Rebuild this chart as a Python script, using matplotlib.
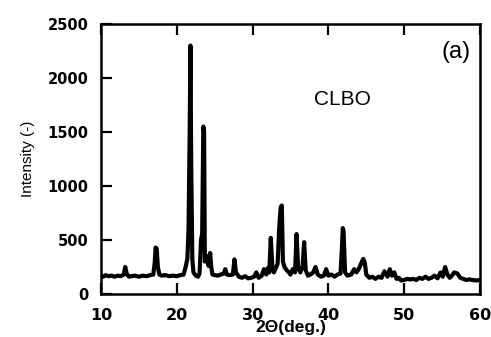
import matplotlib
matplotlib.use("Agg")
import matplotlib.pyplot as plt

# XRD pattern of CLBO powder
two_theta = [10.0, 10.3, 10.6, 11.0, 11.4, 11.8, 12.2, 12.6, 13.0, 13.2,
             13.4, 13.7, 14.0, 14.5, 15.0, 15.5, 16.0, 16.5, 16.9, 17.1,
             17.2, 17.35, 17.5, 17.7, 18.0, 18.5, 19.0, 19.5, 20.0, 20.5,
             20.9, 21.2, 21.4, 21.55, 21.7, 21.8, 21.9, 22.05, 22.2, 22.5,
             22.8, 23.0, 23.2, 23.35, 23.5, 23.6, 23.7, 23.85, 24.0, 24.2,
             24.4, 24.55, 24.7, 25.0, 25.4, 25.8, 26.2, 26.4, 26.6, 27.0,
             27.4, 27.6, 27.8, 28.2, 28.6, 29.0, 29.4, 29.8, 30.2, 30.5,
             30.8, 31.2, 31.5, 31.8, 32.0, 32.2, 32.4, 32.6, 32.8, 33.0,
             33.3, 33.5, 33.7, 33.85, 34.0, 34.2, 34.5, 34.8, 35.0, 35.3,
             35.6, 35.8, 36.0, 36.3, 36.6, 36.8, 37.0, 37.3, 37.6, 38.0,
             38.3, 38.6, 39.0, 39.4, 39.7, 40.0, 40.4, 40.8, 41.2, 41.6,
             41.8, 41.9, 42.0, 42.2, 42.5, 43.0, 43.4, 43.7, 44.0, 44.3,
             44.6, 44.8, 45.0, 45.4, 45.8, 46.2, 46.6, 47.0, 47.4, 47.8,
             48.1, 48.4, 48.7, 49.0, 49.3, 49.6, 50.0, 50.4, 50.8, 51.2,
             51.6, 52.0, 52.4, 52.8, 53.2, 53.6, 54.0, 54.4, 54.8, 55.1,
             55.4, 55.7, 56.0, 56.3, 56.6, 57.0, 57.4, 57.8, 58.2, 58.6,
             59.0, 59.5, 60.0]
intensity = [170, 160, 175, 165, 170, 160, 170, 165, 180, 250,
             185, 160, 165, 170, 160, 170, 165, 175, 180, 300,
             430, 420, 250, 180, 170, 175, 165, 170, 165, 175,
             180, 260, 330, 600, 1500, 2300, 1200, 320, 200, 170,
             160, 190, 500, 560, 1550, 1500, 300, 330, 350, 260,
             380, 250, 180, 175, 170, 180, 190, 230, 180, 175,
             180, 320, 200, 160, 150, 165, 145, 150, 160, 200,
             150, 170, 230, 180, 240, 200, 520, 250, 200, 230,
             280, 600, 800, 820, 300, 250, 220, 200, 180, 230,
             200, 555, 250, 200, 260, 480, 220, 170, 180, 200,
             250, 180, 160, 170, 230, 170, 180, 160, 180, 190,
             450, 610, 580, 200, 170, 180, 230, 200, 230, 280,
             325, 290, 180, 150, 160, 140, 160, 150, 210, 160,
             230, 170, 200, 140, 150, 125, 130, 140, 135, 140,
             130, 150, 140, 160, 140, 150, 170, 145, 200, 160,
             250, 180, 150, 170, 200, 190, 150, 140, 130, 135,
             130, 125, 130]

x_ticks = [10, 20, 30, 40, 50, 60]
y_ticks = [0, 500, 1000, 1500, 2000, 2500]

fig = plt.figure(figsize=(4.91, 3.37), dpi=100)
ax = fig.add_axes([0.2057, 0.1276, 0.7719, 0.8012])

ax.plot(two_theta, intensity, color="black", lw=3.0, solid_joinstyle="round")

ax.set_xlim(10, 60)
ax.set_ylim(0, 2500)
ax.set_xticks(x_ticks)
ax.set_yticks(y_ticks)

for s in ax.spines.values():
    s.set_linewidth(1.8)

ax.tick_params(axis="x", direction="in", top=True, length=8, width=1.6,
               pad=10, labelsize=11.5)
ax.tick_params(axis="y", direction="in", right=False, length=8, width=1.6,
               pad=9, labelsize=10.5)
for lab in ax.get_xticklabels() + ax.get_yticklabels():
    lab.set_fontweight("bold")

ax.set_xlabel("2Θ(deg.)", fontsize=12.5, fontweight="bold", labelpad=-2,
              family="Liberation Sans")
ax.set_ylabel("Intensity (-)", fontsize=11, labelpad=9,
              family="Liberation Sans")

ax.text(41.9, 1800, "CLBO", fontsize=15, ha="center", va="center",
        family="Liberation Sans")
ax.text(56.8, 2240, "(a)", fontsize=17, ha="center", va="center",
        family="Liberation Sans")

fig.savefig("out.png", dpi=100)
